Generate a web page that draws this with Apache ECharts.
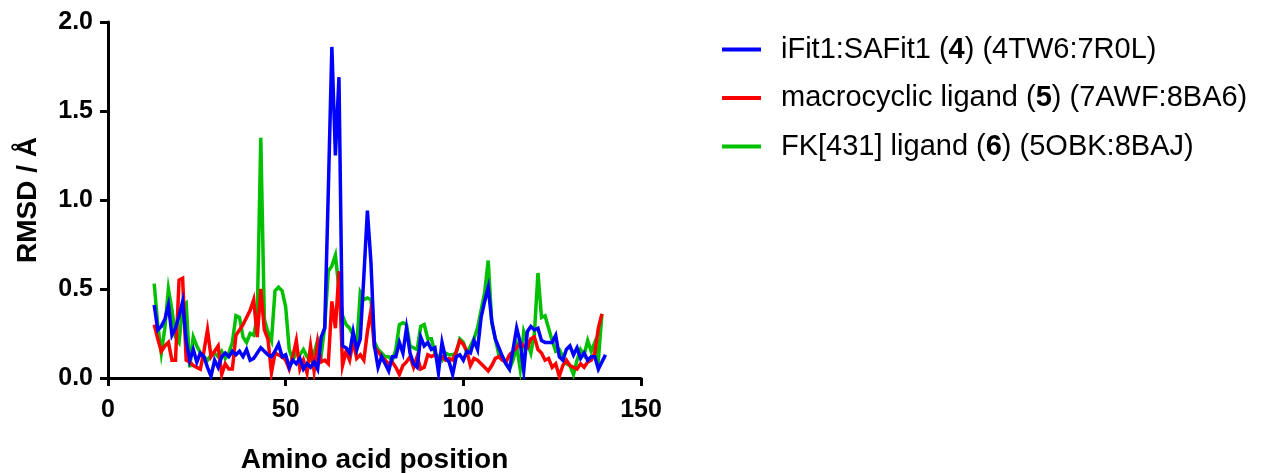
<!DOCTYPE html>
<html>
<head>
<meta charset="utf-8">
<script src="https://cdn.jsdelivr.net/npm/echarts@6/dist/echarts.min.js"></script>
<style>
  html, body { margin: 0; padding: 0; background: #fff; }
  #chart { width: 1268px; height: 473px; }
</style>
</head>
<body>
<div id="chart"></div>
<script>
// Per-residue RMSD values (Å); each series starts at its first residue number
const startBlue = 13;
const rmsdIFit1 = [
  0.41, 0.27, 0.29, 0.33, 0.41, 0.24, 0.28, 0.35, 0.43, 0.21,
  0.10, 0.16, 0.09, 0.14, 0.12, 0.06, 0.01, 0.10, 0.06, 0.12,
  0.14, 0.12, 0.15, 0.13, 0.15, 0.12, 0.16, 0.10, 0.11, 0.14,
  0.17, 0.15, 0.13, 0.12, 0.15, 0.19, 0.12, 0.13, 0.06, 0.10,
  0.08, 0.11, 0.05, 0.08, 0.06, 0.09, 0.05, 0.23, 0.28, 1.05,
  1.86, 1.25, 1.69, 0.18, 0.17, 0.14, 0.26, 0.16, 0.22, 0.57,
  0.94, 0.65, 0.18, 0.06, 0.12, 0.08, 0.04, 0.12, 0.12, 0.20,
  0.14, 0.28, 0.14, 0.08, 0.06, 0.23, 0.18, 0.20, 0.16, 0.17,
  0.03, 0.20, 0.11, 0.09, 0.02, 0.12, 0.13, 0.10, 0.15, 0.14,
  0.21, 0.16, 0.34, 0.43, 0.51, 0.32, 0.22, 0.17, 0.12, 0.08,
  0.05, 0.16, 0.28, 0.20, 0.04, 0.26, 0.29, 0.27, 0.28, 0.21,
  0.20, 0.20, 0.20, 0.24, 0.12, 0.10, 0.16, 0.18, 0.13, 0.17,
  0.11, 0.14, 0.10, 0.12, 0.12, 0.05, 0.09, 0.13
];

const startRed = 13;
const rmsdMacrocycle = [
  0.30, 0.22, 0.15, 0.18, 0.20, 0.10, 0.10, 0.55, 0.56, 0.10,
  0.09, 0.07, 0.06, 0.05, 0.15, 0.27, 0.12, 0.15, 0.18, 0.02,
  0.08, 0.05, 0.05, 0.24, 0.27, 0.30, 0.34, 0.38, 0.44, 0.23,
  0.50, 0.27, 0.22, 0.03, 0.14, 0.13, 0.12, 0.10, 0.05, 0.12,
  0.21, 0.05, 0.10, 0.03, 0.18, 0.04, 0.20, 0.09, 0.10, 0.08,
  0.43, 0.28, 0.60, 0.07, 0.15, 0.10, 0.21, 0.11, 0.13, 0.10,
  0.26, 0.38, 0.17, 0.15, 0.12, 0.10, 0.08, 0.09, 0.06, 0.02,
  0.07, 0.09, 0.12, 0.06, 0.12, 0.05, 0.06, 0.13, 0.12, 0.13,
  0.10, 0.12, 0.10, 0.11, 0.10, 0.15, 0.21, 0.19, 0.15, 0.07,
  0.11, 0.10, 0.08, 0.06, 0.04, 0.07, 0.11, 0.12, 0.10, 0.09,
  0.13, 0.15, 0.17, 0.20, 0.18, 0.17, 0.22, 0.23, 0.16, 0.14,
  0.10, 0.11, 0.06, 0.08, 0.01, 0.07, 0.10, 0.07, 0.06, 0.05,
  0.08, 0.06, 0.09, 0.10, 0.14, 0.28, 0.36
];

const startGreen = 13;
const rmsdFK431 = [
  0.53, 0.30, 0.14, 0.28, 0.50, 0.38, 0.23, 0.20, 0.40, 0.42,
  0.06, 0.23, 0.18, 0.14, 0.12, 0.10, 0.13, 0.14, 0.12, 0.15,
  0.11, 0.14, 0.20, 0.35, 0.34, 0.23, 0.20, 0.25, 0.24, 0.34,
  1.35, 0.33, 0.26, 0.21, 0.49, 0.51, 0.49, 0.40, 0.16, 0.10,
  0.14, 0.13, 0.16, 0.12, 0.10, 0.14, 0.21, 0.13, 0.29, 0.60,
  0.63, 0.69, 0.50, 0.35, 0.30, 0.28, 0.24, 0.18, 0.48, 0.44,
  0.45, 0.44, 0.20, 0.16, 0.14, 0.12, 0.12, 0.10, 0.16, 0.30,
  0.31, 0.30, 0.18, 0.17, 0.16, 0.29, 0.30, 0.22, 0.22, 0.14,
  0.12, 0.10, 0.14, 0.13, 0.13, 0.14, 0.22, 0.20, 0.14, 0.18,
  0.22, 0.28, 0.38, 0.48, 0.66, 0.31, 0.22, 0.13, 0.12, 0.08,
  0.05, 0.10, 0.18, 0.05, 0.26, 0.20, 0.14, 0.25, 0.59, 0.34,
  0.35, 0.28, 0.21, 0.15, 0.16, 0.12, 0.08, 0.07, 0.02, 0.10,
  0.16, 0.13, 0.21, 0.15, 0.20, 0.10, 0.36
];

const xTicks = [0, 50, 100, 150];
const yTicks = [0.0, 0.5, 1.0, 1.5, 2.0];

const seriesNames = [
  'iFit1:SAFit1 (4) (4TW6:7R0L)',
  'macrocyclic ligand (5) (7AWF:8BA6)',
  'FK[431] ligand (6) (5OBK:8BAJ)'
];
const seriesColors = ['#0000FF', '#FF0000', '#00C000'];

function toPairs(start, values) {
  return values.map((v, i) => [start + i, v]);
}

const FONT = '"Liberation Sans", Arial, sans-serif';
const AXIS_COLOR = '#000';

const chart = echarts.init(document.getElementById('chart'), null, { renderer: 'canvas' });

const axisCommon = {
  axisLine: { show: true, onZero: false, lineStyle: { color: AXIS_COLOR, width: 3 } },
  axisTick: { show: true, inside: false, length: 8, lineStyle: { color: AXIS_COLOR, width: 3 } },
  splitLine: { show: false },
  nameLocation: 'middle',
  nameTextStyle: { fontFamily: FONT, fontWeight: 'bold', fontSize: 28, color: '#000' }
};

// Draw order: green underneath, then red, blue on top
const lineSeries = [
  { name: seriesNames[2], color: seriesColors[2], data: toPairs(startGreen, rmsdFK431), z: 2 },
  { name: seriesNames[1], color: seriesColors[1], data: toPairs(startRed, rmsdMacrocycle), z: 3 },
  { name: seriesNames[0], color: seriesColors[0], data: toPairs(startBlue, rmsdIFit1), z: 4 }
].map(s => ({
  type: 'line',
  name: s.name,
  data: s.data,
  z: s.z,
  showSymbol: false,
  symbol: 'none',
  animation: false,
  itemStyle: { color: s.color },
  lineStyle: { color: s.color, width: 3.5, join: 'miter' }
}));

chart.setOption({
  backgroundColor: '#fff',
  animation: false,
  grid: {
    left: 108, right: 627, top: 22, bottom: 95,
    containLabel: false,
    outerBoundsMode: 'none'
  },
  legend: {
    orient: 'vertical',
    left: 717,
    top: 30,
    itemGap: 19.5,
    itemWidth: 39,
    itemHeight: 4,
    icon: 'rect',
    data: seriesNames,
    formatter: name => name.replace(/\((\d)\)/, '({b|$1})'),
    textStyle: {
      fontFamily: FONT,
      fontSize: 29,
      color: '#000',
      padding: [0, 0, 0, 15],
      rich: {
        b: { fontFamily: FONT, fontSize: 29, fontWeight: 'bold', color: '#000' }
      }
    }
  },
  xAxis: Object.assign({}, axisCommon, {
    type: 'value',
    min: xTicks[0],
    max: xTicks[xTicks.length - 1],
    interval: xTicks[1] - xTicks[0],
    name: 'Amino acid position',
    nameGap: 68,
    axisLabel: { fontFamily: FONT, fontWeight: 'bold', fontSize: 25, color: '#000', margin: 20 }
  }),
  yAxis: Object.assign({}, axisCommon, {
    type: 'value',
    min: yTicks[0],
    max: yTicks[yTicks.length - 1],
    interval: yTicks[1] - yTicks[0],
    name: 'RMSD / Å',
    nameGap: 66,
    axisLabel: {
      fontFamily: FONT, fontWeight: 'bold', fontSize: 25, color: '#000', margin: 15,
      formatter: v => v.toFixed(1)
    }
  }),
  series: lineSeries
});
</script>
</body>
</html>
